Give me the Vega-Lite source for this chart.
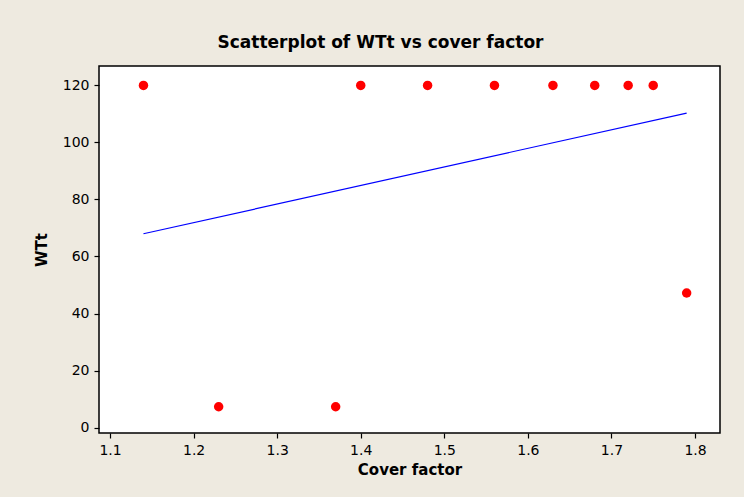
{
  "$schema": "https://vega.github.io/schema/vega-lite/v6.json",
  "autosize": "none",
  "width": 621,
  "height": 367,
  "padding": {"left": 99, "top": 66, "right": 24, "bottom": 64},
  "background": "#EEEAE0",
  "config": {
    "font": "DejaVu Sans",
    "view": {"fill": "white", "stroke": "black", "strokeWidth": 1.5},
    "axis": {
      "grid": false,
      "domain": false,
      "tickColor": "black",
      "tickSize": 5,
      "tickWidth": 1.2,
      "labelColor": "black",
      "labelFont": "DejaVu Sans",
      "labelFontSize": 14,
      "labelPadding": 5,
      "titleFont": "DejaVu Sans",
      "titleFontSize": 15,
      "titleFontWeight": "bold",
      "titleColor": "black"
    }
  },
  "title": {
    "text": "Scatterplot of WTt vs cover factor",
    "font": "DejaVu Sans",
    "fontSize": 17,
    "fontWeight": "bold",
    "color": "black",
    "anchor": "middle",
    "dx": -29,
    "offset": 14
  },
  "data": {
    "values": [
      {"cover": 1.14, "WTt": 120},
      {"cover": 1.23, "WTt": 7.3},
      {"cover": 1.37, "WTt": 7.3},
      {"cover": 1.40, "WTt": 120},
      {"cover": 1.48, "WTt": 120},
      {"cover": 1.56, "WTt": 120},
      {"cover": 1.63, "WTt": 120},
      {"cover": 1.68, "WTt": 120},
      {"cover": 1.72, "WTt": 120},
      {"cover": 1.75, "WTt": 120},
      {"cover": 1.79, "WTt": 47.2}
    ]
  },
  "layer": [
    {
      "transform": [{"regression": "WTt", "on": "cover"}],
      "mark": {"type": "line", "color": "#0000FF", "strokeWidth": 1.2},
      "encoding": {
        "x": {"field": "cover", "type": "quantitative"},
        "y": {"field": "WTt", "type": "quantitative"}
      }
    },
    {
      "mark": {"type": "point", "filled": true, "shape": "circle", "size": 90, "color": "#FF0000", "opacity": 1},
      "encoding": {
        "x": {
          "field": "cover",
          "type": "quantitative",
          "title": "Cover factor",
          "scale": {"domain": [1.0868, 1.8299], "nice": false, "zero": false},
          "axis": {"values": [1.1, 1.2, 1.3, 1.4, 1.5, 1.6, 1.7, 1.8], "format": ".1f", "titlePadding": 5}
        },
        "y": {
          "field": "WTt",
          "type": "quantitative",
          "title": "WTt",
          "scale": {"domain": [-1.9, 126.8], "nice": false, "zero": false},
          "axis": {"values": [0, 20, 40, 60, 80, 100, 120], "titlePadding": 13}
        }
      }
    }
  ]
}
